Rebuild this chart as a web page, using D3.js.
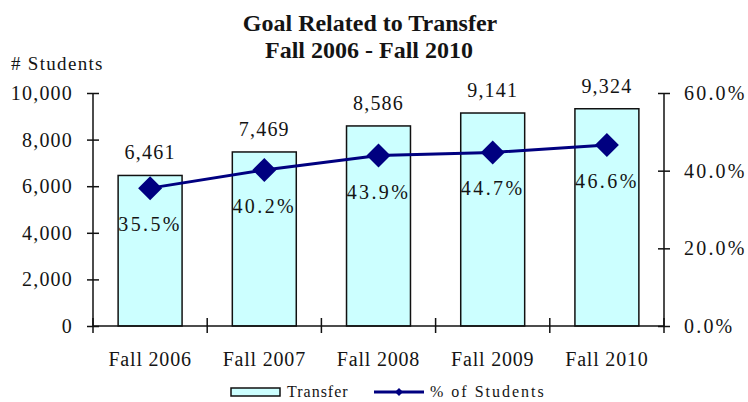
<!DOCTYPE html>
<html>
<head>
<meta charset="utf-8">
<script src="https://cdn.jsdelivr.net/npm/d3@7"></script>
<style>
  body { margin: 0; background: #fff; }
  text { font-family: "Liberation Serif", "Times New Roman", serif; fill: #141414; }
</style>
</head>
<body>
<div id="chart"></div>
<script>
// chart data
var categories = ["Fall 2006", "Fall 2007", "Fall 2008", "Fall 2009", "Fall 2010"];
var transfer = [6461, 7469, 8586, 9141, 9324];
var pctStudents = [35.5, 40.2, 43.9, 44.7, 46.6];
var leftTicks = [0, 2000, 4000, 6000, 8000, 10000];
var rightTicks = [0, 20, 40, 60];

var width = 748, height = 402;
var margin = {top: 93, right: 84, bottom: 76, left: 93};
var innerW = width - margin.left - margin.right,
    innerH = height - margin.top - margin.bottom;

var svg = d3.select("#chart").append("svg")
    .attr("width", width)
    .attr("height", height);

var g = svg.append("g")
    .attr("transform", "translate(" + margin.left + "," + margin.top + ")");

var x = d3.scaleBand().domain(categories).range([0, innerW]).paddingInner(0.44).paddingOuter(0.22);
var y = d3.scaleLinear().domain([0, 10000]).range([innerH, 0]);
var y2 = d3.scaleLinear().domain([0, 60]).range([innerH, 0]);

// title
svg.append("text").attr("x", 370).attr("y", 31).attr("text-anchor", "middle")
    .style("font-size", "24px").style("font-weight", "bold").text("Goal Related to Transfer");
svg.append("text").attr("x", 369).attr("y", 58).attr("text-anchor", "middle")
    .style("font-size", "24px").style("font-weight", "bold").text("Fall 2006 - Fall 2010");

svg.append("text").attr("x", 11).attr("y", 70)
    .style("font-size", "19px").style("letter-spacing", "1.3px").text("# Students");

// bars
g.selectAll(".bar").data(transfer).enter().append("rect")
    .attr("x", function (d, i) { return x(categories[i]); })
    .attr("y", function (d) { return y(d); })
    .attr("width", x.bandwidth())
    .attr("height", function (d) { return innerH - y(d); })
    .attr("fill", "#ccffff")
    .attr("stroke", "#111")
    .attr("stroke-width", 1.5);

// bar value labels
g.selectAll(".val").data(transfer).enter().append("text")
    .attr("x", function (d, i) { return x(categories[i]) + x.bandwidth() / 2; })
    .attr("y", function (d) { return y(d) - 16; })
    .attr("text-anchor", "middle")
    .style("font-size", "20px").style("letter-spacing", "1.2px")
    .text(function (d) { return d3.format(",")(d); });

// axes
var axisL = g.append("g").call(d3.axisLeft(y).tickValues(leftTicks).tickSize(6).tickPadding(14)
    .tickFormat(d3.format(",")));
axisL.selectAll(".tick line").attr("x1", 6).attr("x2", -6);

var axisR = g.append("g").attr("transform", "translate(" + innerW + ",0)")
    .call(d3.axisRight(y2).tickValues(rightTicks).tickSize(6).tickPadding(14)
    .tickFormat(function (d) { return d.toFixed(1) + "%"; }));
axisR.selectAll(".tick line").attr("x1", -6).attr("x2", 6);

var axisB = g.append("g").attr("transform", "translate(0," + innerH + ")")
    .call(d3.axisBottom(x).tickSize(0).tickPadding(26));

// category dividers on bottom axis
g.selectAll(".div").data(d3.range(categories.length + 1)).enter().append("line")
    .attr("x1", function (i) { return i * innerW / categories.length; })
    .attr("x2", function (i) { return i * innerW / categories.length; })
    .attr("y1", innerH - 8).attr("y2", innerH + 7)
    .attr("stroke", "#111").attr("stroke-width", 1.5);

[axisL, axisR, axisB].forEach(function (a) {
    a.select(".domain").attr("stroke", "#111").attr("stroke-width", 1.5);
    a.selectAll(".tick line").attr("stroke", "#111").attr("stroke-width", 1.5);
    a.selectAll("text").style("font-family", "Liberation Serif, serif")
        .style("font-size", "20px").style("letter-spacing", "1.2px").attr("fill", "#141414");
});
axisL.select(".domain").attr("d", "M0,0V" + innerH);
axisR.select(".domain").attr("d", "M0,0V" + innerH);
axisB.select(".domain").attr("d", "M0,0H" + innerW);
axisR.selectAll("text").style("letter-spacing", "2.2px");
axisB.selectAll("text").style("letter-spacing", "0.8px");

// line
var cx = function (d, i) { return x(categories[i]) + x.bandwidth() / 2; };
var line = d3.line().x(function (d, i) { return cx(d, i); }).y(function (d) { return y2(d); });
g.append("path").datum(pctStudents).attr("d", line)
    .attr("fill", "none").attr("stroke", "#000080").attr("stroke-width", 3);

var diamond = "M0,-12L12,0L0,12L-12,0Z";
g.selectAll(".pt").data(pctStudents).enter().append("path")
    .attr("d", diamond)
    .attr("transform", function (d, i) { return "translate(" + cx(d, i) + "," + y2(d) + ")"; })
    .attr("fill", "#000080");

g.selectAll(".pct").data(pctStudents).enter().append("text")
    .attr("x", function (d, i) { return cx(d, i); })
    .attr("y", function (d) { return y2(d) + 43; })
    .attr("text-anchor", "middle")
    .style("font-size", "20px").style("letter-spacing", "2.4px")
    .text(function (d) { return d.toFixed(1) + "%"; });

// legend
var lg = svg.append("g");
lg.append("rect").attr("x", 231).attr("y", 388).attr("width", 49).attr("height", 8)
    .attr("fill", "#ccffff").attr("stroke", "#111").attr("stroke-width", 1.5);
lg.append("text").attr("x", 287).attr("y", 397).style("font-size", "16px")
    .style("letter-spacing", "1px").text("Transfer");
lg.append("line").attr("x1", 374).attr("x2", 424).attr("y1", 392).attr("y2", 392)
    .attr("stroke", "#000080").attr("stroke-width", 3);
lg.append("path").attr("d", "M0,-4L4,0L0,4L-4,0Z").attr("transform", "translate(399,392)")
    .attr("fill", "#000080");
lg.append("text").attr("x", 430).attr("y", 397).style("font-size", "16px")
    .style("letter-spacing", "2px").text("% of Students");
</script>
</body>
</html>
